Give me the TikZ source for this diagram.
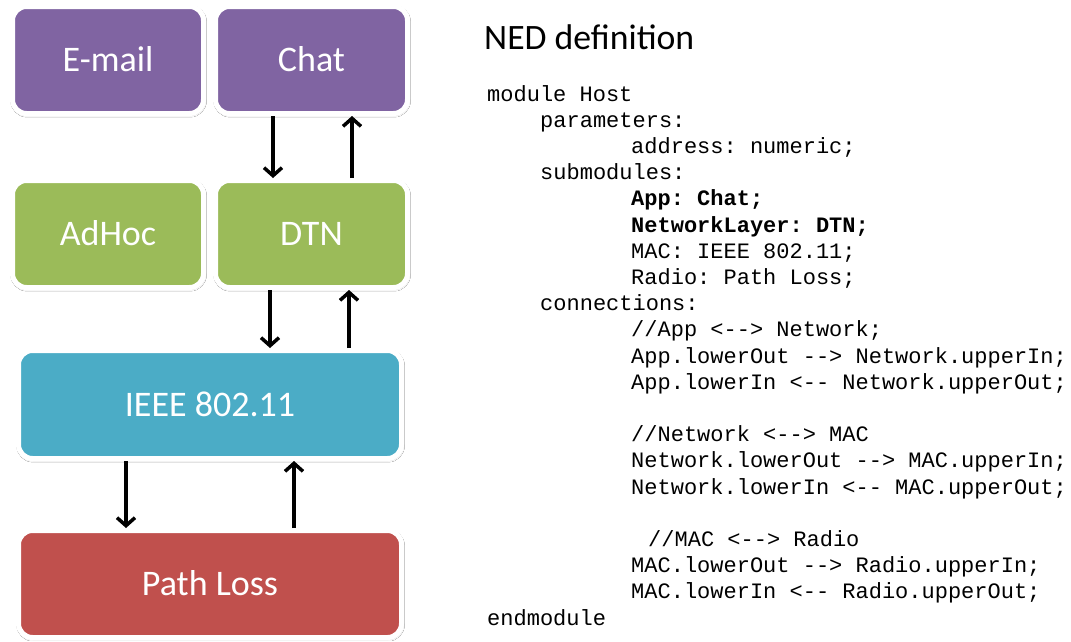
\documentclass[tikz,border=0pt]{standalone}
\usepackage{fontspec}
\setmainfont{Carlito}
\setmonofont{Liberation Mono}
\usetikzlibrary{arrows.meta,shadows.blur}

\definecolor{appcol}{HTML}{8064A2}
\definecolor{netcol}{HTML}{9BBB59}
\definecolor{maccol}{HTML}{4BACC6}
\definecolor{radcol}{HTML}{C0504D}

\begin{document}
\begin{tikzpicture}[x=1pt,y=-1pt,
  layerbox/.style={draw=white, line width=5pt, rounded corners=14pt,
    minimum height=107pt, inner sep=0pt, text=white,
    font=\fontsize{36}{42}\selectfont, text height=23.2pt, text depth=0pt,
    blur shadow={shadow xshift=0.6pt, shadow yshift=-1.2pt,
      shadow blur radius=2.5pt, shadow opacity=35}},
  flow/.style={line width=3.5pt, -{Straight Barb[length=8pt,width=18pt]}},
  codeline/.style={anchor=base west, inner sep=0pt,
    font=\ttfamily\fontsize{22}{26}\selectfont},
  codebold/.style={codeline, font=\ttfamily\bfseries\fontsize{22}{26}\selectfont},
  title/.style={anchor=base west, inner sep=0pt, font=\fontsize{35.7}{42}\selectfont}]

\useasboundingbox[fill=white] (0,0) rectangle (1071,641);

% protocol stack
\node[layerbox, fill=appcol, minimum width=191pt] (email) at (108,60) {E-mail};
\node[layerbox, fill=appcol, minimum width=192pt] (chat)  at (311.5,60) {Chat};
\node[layerbox, fill=netcol, minimum width=191pt] (adhoc) at (108,234) {AdHoc};
\node[layerbox, fill=netcol, minimum width=192pt] (dtn)   at (311.5,234) {DTN};
\node[layerbox, fill=maccol, minimum width=383pt, minimum height=108pt] (ieee) at (210,404.5) {IEEE 802.11};
\node[layerbox, fill=radcol, minimum width=383pt] (pathloss) at (210,584) {Path Loss};

% message flow between layers
\draw[flow] ([xshift=-38.5pt]chat.south) -- ([xshift=-38.5pt]chat.south |- dtn.north);
\draw[flow] ([xshift=40.5pt]dtn.north) -- ([xshift=40.5pt]dtn.north |- chat.south);
\draw[flow] ([xshift=-41.5pt]dtn.south) -- ([xshift=-41.5pt]dtn.south |- ieee.north);
\draw[flow] ([xshift=139pt]ieee.north) -- ([xshift=139pt]ieee.north |- dtn.south);
\draw[flow] ([xshift=-84pt]ieee.south) -- ([xshift=-84pt]ieee.south |- pathloss.north);
\draw[flow] ([xshift=84pt]pathloss.north) -- ([xshift=84pt]pathloss.north |- ieee.south);

% NED source
\node[title] (ned) at (484,49.5) {NED definition};

\node[codeline] (c1)  at (487,101.0) {module Host};
\node[codeline] (c2)  at (540,127.2) {parameters:};
\node[codeline] (c3)  at (631,153.4) {address: numeric;};
\node[codeline] (c4)  at (540,179.6) {submodules:};
\node[codebold] (c5)  at (631,205.8) {App: Chat;};
\node[codebold] (c6)  at (631,232.0) {NetworkLayer: DTN;};
\node[codeline] (c7)  at (631,258.2) {MAC: IEEE 802.11;};
\node[codeline] (c8)  at (631,284.4) {Radio: Path Loss;};
\node[codeline] (c9)  at (540,310.6) {connections:};
\node[codeline] (c10) at (631,336.8) {//App <--> Network;};
\node[codeline] (c11) at (631,363.0) {App.lowerOut --> Network.upperIn;};
\node[codeline] (c12) at (631,389.2) {App.lowerIn <-- Network.upperOut;};
\node[codeline] (c14) at (631,441.6) {//Network <--> MAC};
\node[codeline] (c15) at (631,467.8) {Network.lowerOut --> MAC.upperIn;};
\node[codeline] (c16) at (631,494.0) {Network.lowerIn <-- MAC.upperOut;};
\node[codeline] (c18) at (648,546.4) {//MAC <--> Radio};
\node[codeline] (c19) at (631,572.6) {MAC.lowerOut --> Radio.upperIn;};
\node[codeline] (c20) at (631,598.8) {MAC.lowerIn <-- Radio.upperOut;};
\node[codeline] (c21) at (487,625.0) {endmodule};
\end{tikzpicture}
\end{document}
